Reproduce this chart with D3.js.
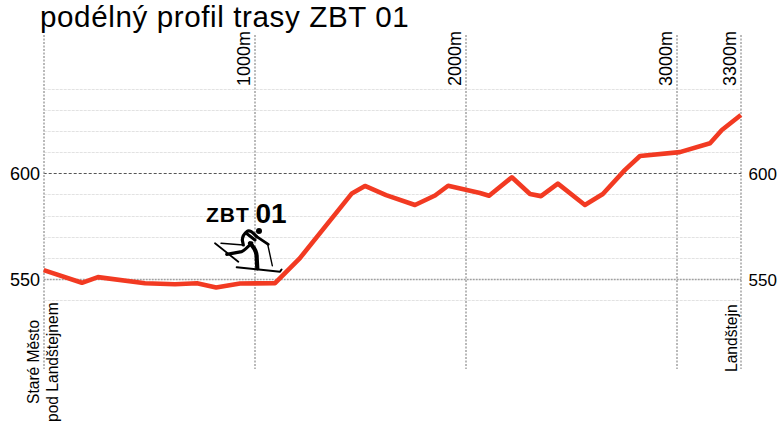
<!DOCTYPE html>
<html><head><meta charset="utf-8">
<script src="https://cdn.jsdelivr.net/npm/d3@7"></script>
<style>
html,body{margin:0;padding:0;background:#fff;overflow:hidden}
svg{display:block}
text{font-family:"Liberation Sans",Arial,sans-serif;fill:#000}
</style></head><body>
<svg id="c" width="777" height="427"></svg>
<script>
const distances=[0,181,257,480,622,726,817,930,1096,1214,1460,1522,1622,1759,1854,1916,2067,2110,2218,2304,2356,2436,2564,2649,2754,2825,3014,3157,3213,3303];
const elevations=[554.2,548.2,550.9,548.0,547.5,548.0,546.0,547.9,548.0,559.9,590.5,594.0,589.7,585.0,589.5,594.1,590.7,589.4,598.1,590.2,589.2,595.1,585.0,590.2,601.6,608.2,610.0,614.2,620.5,627.6];
const xTicks=[1000,2000,3000,3300];
const minorLevels=[540,560,570,580,590,610,620,630,640];
const majorLevels=[550,600];
const titleText="podélný profil trasy ZBT 01";

const svg=d3.select("#c");
const x=d3.scaleLinear().domain([0,3305]).range([43.7,741.3]);
const y=d3.scaleLinear().domain([550,600]).range([279,173.3]);
const top_=35,bottom=369;

const hl=(v,c,d,w)=>svg.append("line").attr("x1",x(0)).attr("x2",x(3305)).attr("y1",Math.round(y(v))+.5).attr("y2",Math.round(y(v))+.5).attr("stroke",c).attr("stroke-dasharray",d).attr("stroke-width",w);
minorLevels.forEach(v=>hl(v,"#e2e2e2","3 1",1.2));
hl(550,"#a0a0a0","2 1",1.4);
hl(600,"#555","3 2",1);

[0,...xTicks].forEach(t=>{
  const isEnd=t===3300;
  const px=isEnd?x(3305):x(t);
  svg.append("line").attr("x1",Math.round(px)).attr("x2",Math.round(px)).attr("y1",top_).attr("y2",bottom)
    .attr("stroke",isEnd?"#777":"#a8a8a8").attr("stroke-dasharray","2 1.5").attr("stroke-width",isEnd?1:1.6);
});

xTicks.forEach(t=>{
  const px=t===3300?x(3305):x(t);
  svg.append("text").attr("transform",`translate(${px-5},86) rotate(-90)`).attr("font-size",18).text(t+"m");
});
majorLevels.forEach(v=>{
  svg.append("text").attr("x",40).attr("y",y(v)+6.5).attr("text-anchor","end").attr("font-size",18).text(v);
  svg.append("text").attr("x",748.5).attr("y",y(v)+6.5).attr("font-size",17).text(v);
});

const side=(t,bx,by)=>svg.append("text").attr("transform",`translate(${bx},${by}) rotate(-90)`).attr("font-size",15.6).attr("fill","#222").text(t);
side("Staré Město",39,404);
side("pod Landštejnem",58,422);
side("Landštejn",736.5,372);

svg.append("text").attr("x",40).attr("y",27).attr("font-size",29.6).attr("letter-spacing",0.6).text(titleText);

svg.append("path").datum(d3.zip(distances,elevations))
  .attr("d",d3.line().x(d=>x(d[0])).y(d=>y(d[1])))
  .attr("fill","none").attr("stroke","#f23a22").attr("stroke-width",4.6).attr("stroke-linejoin","round");

svg.append("text").attr("x",206).attr("y",222).attr("font-size",21).attr("font-weight","bold").attr("letter-spacing",1).text("ZBT");
svg.append("text").attr("x",255.5).attr("y",223).attr("font-size",28).attr("font-weight","bold").text("01");

// skier pictogram
const g=svg.append("g").attr("fill","none").attr("stroke","#000").attr("stroke-linecap","round").attr("stroke-linejoin","round");
const s=(d,w)=>g.append("path").attr("d",d).attr("stroke-width",w);
s("M215,243.3 L238.3,261.7",1.8);
s("M236.7,267.3 L280,271.7 L281.5,269.5",2);
s("M221,243.3 L243.3,245",1.4);
s("M267.7,244.3 L272.3,265.7",1.4);
s("M256.7,236.7 Q250,229 247,231.5 Q242.5,235 242.3,240 L243.3,245",3.2);
s("M256.7,236.7 L268.3,244.3",2.8);
s("M251.7,243 Q245,250 241.7,251.7 L226.7,254.3",3.2);
s("M250,243.3 Q257,250 256.7,258 L257.3,268.3",4.2);
s("M246,233 L255,240",3);
g.append("circle").attr("cx",259).attr("cy",231).attr("r",3).attr("fill","#000").attr("stroke","none");
</script></body></html>
